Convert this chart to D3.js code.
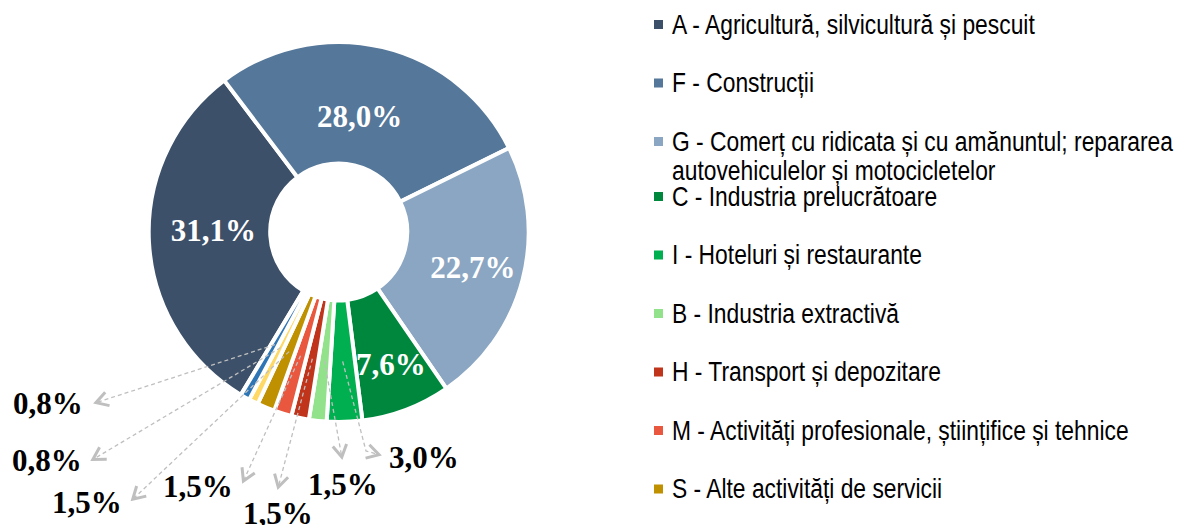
<!DOCTYPE html>
<html>
<head>
<meta charset="utf-8">
<script src="https://cdn.jsdelivr.net/npm/d3@7"></script>
<style>
  body { margin: 0; background: #fff; }
</style>
</head>
<body>
<script>
// share of units by sector (%), clockwise from the A slice
const codes = ["A", "F", "G", "C", "I", "B", "H", "M", "S", "X1", "X2"];
const values = [31.1, 28.0, 22.7, 7.6, 3.0, 1.5, 1.5, 1.5, 1.5, 0.8, 0.8];
const colors = ["#3c5069", "#557799", "#8ba6c2", "#00873e", "#00b050", "#92e28c",
                "#c0341c", "#e9573e", "#bf9000", "#ffd966", "#2e75b6"];

// legend only shows the first nine sectors
const legendLabels = [
  ["A - Agricultură, silvicultură și pescuit"],
  ["F - Construcții"],
  ["G - Comerț cu ridicata și cu amănuntul; repararea", "autovehiculelor și motocicletelor"],
  ["C - Industria prelucrătoare"],
  ["I - Hoteluri și restaurante"],
  ["B - Industria extractivă"],
  ["H - Transport și depozitare"],
  ["M - Activități profesionale, științifice și tehnice"],
  ["S - Alte activități de servicii"]
];

const width = 1178, height = 525;
const cx = 338.7, cy = 232;
const start = 211 * Math.PI / 180;

const fmt = v => d3.format(".1f")(v).replace(".", ",") + "%";

const svg = d3.select("body").append("svg")
  .attr("width", width).attr("height", height);

const defs = svg.append("defs");
defs.append("marker")
  .attr("id", "arr")
  .attr("viewBox", "-16 -9 18 18")
  .attr("refX", 0).attr("refY", 0)
  .attr("markerWidth", 18).attr("markerHeight", 18)
  .attr("markerUnits", "userSpaceOnUse")
  .attr("orient", "auto")
  .append("path")
  .attr("d", "M-13,-7 L-1,0 L-13,7")
  .attr("fill", "none")
  .attr("stroke", "#bfbfbf")
  .attr("stroke-width", 3)
  .attr("stroke-dasharray", "none");

const pie = d3.pie().sort(null).value(d => d)
  .startAngle(start).endAngle(start + 2 * Math.PI);
const arcs = pie(values);

const arc = d3.arc().innerRadius(68.5).outerRadius(190);
const mid = d3.arc().innerRadius(129.5).outerRadius(129.5);

const g = svg.append("g").attr("transform", `translate(${cx},${cy})`);

g.selectAll("path.slice")
  .data(arcs)
  .join("path")
  .attr("class", "slice")
  .attr("d", arc)
  .attr("fill", (d, i) => colors[i])
  .attr("stroke", "#fff")
  .attr("stroke-width", 4)
  .attr("stroke-linejoin", "miter");

// labels inside the big slices
const inNudge = [[4, -9], [-9, 10], [9, 2], [6, 11]];
g.selectAll("text.inl")
  .data(arcs.slice(0, 4))
  .join("text")
  .attr("class", "inl")
  .attr("x", (d, i) => mid.centroid(d)[0] + inNudge[i][0])
  .attr("y", (d, i) => mid.centroid(d)[1] + inNudge[i][1])
  .attr("dy", "0.35em")
  .attr("text-anchor", "middle")
  .attr("font-family", "'Liberation Serif', 'Times New Roman', serif")
  .attr("font-weight", "bold")
  .attr("font-size", 31)
  .attr("fill", "#fff")
  .text(d => fmt(d.data));

// outside labels with dashed leaders (absolute page coords)
const outside = [
  { i: 4,  tip: [380, 455], bend: [366, 451], x: 389, y: 468 },
  { i: 5,  tip: [342, 458], x: 308, y: 495 },
  { i: 6,  tip: [278, 488], x: 243, y: 524 },
  { i: 7,  tip: [243, 482], x: 163, y: 496.5 },
  { i: 8,  tip: [132, 500], x: 52,  y: 513 },
  { i: 9,  tip: [92, 460],  x: 12,  y: 471 },
  { i: 10, tip: [95, 403],  x: 13,  y: 414 }
];

const line = d3.line();
svg.selectAll("path.leader")
  .data(outside)
  .join("path")
  .attr("class", "leader")
  .attr("d", o => {
    const c = mid.centroid(arcs[o.i]);
    const p0 = [c[0] + cx, c[1] + cy];
    return line(o.bend ? [p0, o.bend, o.tip] : [p0, o.tip]);
  })
  .attr("fill", "none")
  .attr("stroke", "#bfbfbf")
  .attr("stroke-width", 1.3)
  .attr("stroke-dasharray", "4,3")
  .attr("marker-end", "url(#arr)");

svg.selectAll("text.outl")
  .data(outside)
  .join("text")
  .attr("class", "outl")
  .attr("x", o => o.x)
  .attr("y", o => o.y)
  .attr("font-family", "'Liberation Serif', 'Times New Roman', serif")
  .attr("font-weight", "bold")
  .attr("font-size", 31)
  .attr("fill", "#000")
  .text(o => fmt(values[o.i]));

// legend
const legend = svg.append("g");
const item = legend.selectAll("g.item")
  .data(legendLabels)
  .join("g")
  .attr("class", "item")
  .attr("transform", (d, i) => `translate(654,${33.5 + i * 58.5 - (i > 2 ? 3.5 : 0)})`);

item.append("rect")
  .attr("x", 0).attr("y", -13.5)
  .attr("width", 9).attr("height", 9)
  .attr("fill", (d, i) => colors[i]);

item.append("text")
  .attr("transform", "translate(18,0) scale(0.83,1)")
  .attr("font-family", "'Liberation Sans', Arial, sans-serif")
  .attr("font-size", 27.5)
  .attr("fill", "#000")
  .selectAll("tspan")
  .data(d => d)
  .join("tspan")
  .attr("x", 0)
  .attr("y", (d, j) => j * 30)
  .text(d => d);
</script>
</body>
</html>
